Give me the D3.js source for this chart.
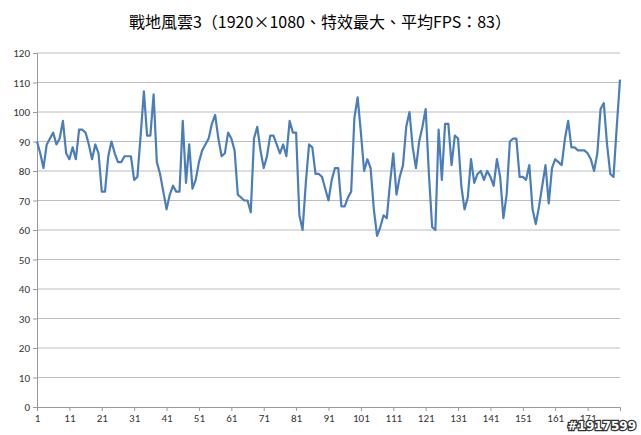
<!DOCTYPE html>
<html>
<head>
<meta charset="utf-8">
<script src="https://cdn.jsdelivr.net/npm/d3@7"></script>
<style>
body { margin: 0; background: #fff; }
text { font-family: "Noto Sans CJK TC", "Noto Sans", sans-serif; }
</style>
</head>
<body>
<svg id="chart" width="641" height="435"></svg>
<script>
// chart data
var title = "戰地風雲3（1920×1080、特效最大、平均FPS：83）";
var fps = [90,86,81,89,91,93,89,91,97,86,84,88,84,94,94,93,89,84,89,86,
  73,73,85,90,86,83,83,85,85,85,77,78,92,107,92,92,106,83,79,73,
  67,72,75,73,73,97,76,89,74,77,83,87,89,91,96,99,91,85,86,93,
  91,87,72,71,70,70,66,91,95,87,81,85,92,92,89,86,89,85,97,93,
  93,65,60,76,89,88,79,79,78,74,70,77,81,81,68,68,71,73,98,105,
  93,80,84,81,67,58,61,65,64,76,86,72,78,82,95,100,88,81,90,95,
  101,79,61,60,94,77,96,96,82,92,91,75,67,71,84,76,79,80,77,80,
  78,75,84,78,64,72,90,91,91,78,78,77,82,67,62,68,75,82,69,81,
  84,83,82,91,97,88,88,87,87,87,86,84,80,86,101,103,89,79,78,95,111];
var yTicks = d3.range(0, 121, 10);
var xTicks = d3.range(1, 172, 10);

var svg = d3.select("#chart");
var padL = 37, padR = 620, padT = 53, padB = 407;

var x = d3.scaleLinear().domain([1, fps.length]).range([padL, padR]);
var y = d3.scaleLinear().domain([0, 120]).range([padB, padT]);

svg.append("text")
    .attr("x", 320).attr("y", 28)
    .attr("text-anchor", "middle")
    .attr("font-size", 16)
    .attr("fill", "#000")
    .text(title);

// grid
svg.append("g").selectAll("line")
    .data(yTicks.filter(function(d){ return d > 0; }))
    .enter().append("line")
    .attr("x1", padL).attr("x2", padR)
    .attr("y1", function(d){ return y(d); })
    .attr("y2", function(d){ return y(d); })
    .attr("stroke", "#bdbdbd").attr("stroke-width", 1);

var yAxis = svg.append("g")
    .attr("transform", "translate(" + padL + ",0)")
    .call(d3.axisLeft(y).tickValues(yTicks).tickSize(4));
yAxis.select(".domain").attr("stroke", "#999");
yAxis.selectAll("line").attr("stroke", "#999");
yAxis.selectAll("text").attr("font-size", 11).attr("fill", "#333")
    .style("font-family", "Calibri, 'Liberation Sans', sans-serif");

var xAxis = svg.append("g")
    .attr("transform", "translate(0," + padB + ")")
    .call(d3.axisBottom(x).tickValues(xTicks).tickSize(4).tickFormat(d3.format("d")));
xAxis.select(".domain").attr("stroke", "#999");
xAxis.selectAll("line").attr("stroke", "#999");
xAxis.selectAll("text").attr("font-size", 11).attr("fill", "#333")
    .style("font-family", "Calibri, 'Liberation Sans', sans-serif");

var line = d3.line()
    .x(function(d, i){ return x(i + 1); })
    .y(function(d){ return y(d); });

svg.append("path")
    .datum(fps)
    .attr("d", line)
    .attr("fill", "none")
    .attr("stroke", "#4a7ebb")
    .attr("stroke-width", 2.2)
    .attr("stroke-linejoin", "round");

// watermark
svg.append("text")
    .attr("x", 636).attr("y", 430)
    .attr("text-anchor", "end")
    .attr("font-size", 12)
    .attr("font-weight", "bold")
    .attr("fill", "#fff")
    .attr("stroke", "#333")
    .attr("stroke-width", 2.5)
    .attr("paint-order", "stroke")
    .style("font-family", "'DejaVu Sans', sans-serif")
    .text("#1917599");
</script>
</body>
</html>
